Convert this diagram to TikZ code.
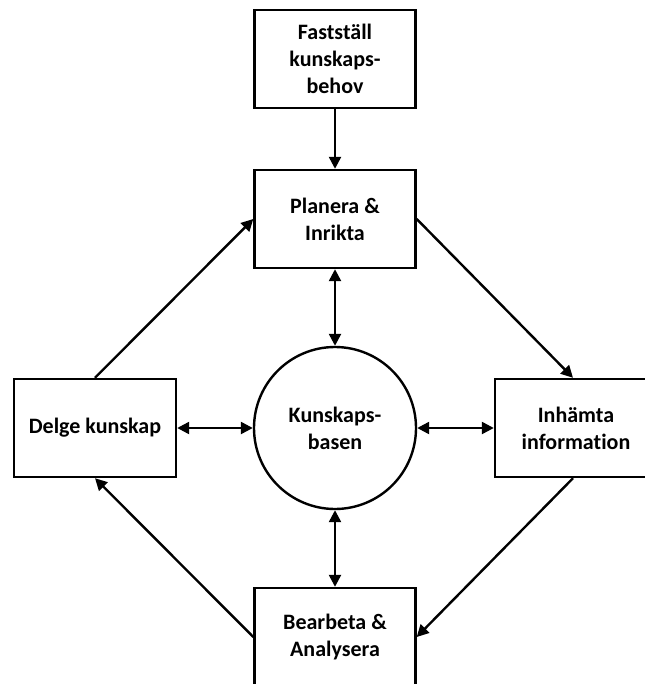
\documentclass[tikz,border=0pt]{standalone}
\usepackage{fontspec}
\setmainfont[Ligatures=NoCommon]{Carlito}
\usetikzlibrary{arrows.meta}
\begin{document}
\begin{tikzpicture}[x=1pt,y=-1pt,
  box/.style={draw, line width=2.4pt, rectangle, minimum width=161pt, minimum height=98pt, inner sep=0pt, align=center, font=\fontsize{22}{27}\selectfont\bfseries},
  hub/.style={draw, line width=2.4pt, circle, minimum size=162pt, inner sep=0pt, align=center, font=\fontsize{22}{27}\selectfont\bfseries},
  conn/.style={line width=2.4pt, -{Triangle[width=12pt,length=12pt]}},
  bconn/.style={line width=2.4pt, {Triangle[width=12pt,length=12pt]}-{Triangle[width=12pt,length=12pt]}}]
\useasboundingbox (0,0) rectangle (644,684);
\node[box] (fast) at (335,59) {Fastställ\\kunskaps-\\behov};
\node[box] (plan) at (335,219) {Planera \&\\Inrikta};
\node[hub] (kb) at (335,428) {Kunskaps-\\basen};
\node[box, minimum width=162pt] (delge) at (95,428) {Delge kunskap};
\node[box, minimum width=162pt] (inh) at (576,428) {Inhämta\\information};
\node[box] (bear) at (335,637) {Bearbeta \&\\Analysera};
\draw[conn] (fast) -- (plan);
\draw[conn] (plan.east) -- (inh.north -| 573,0);
\draw[conn] (inh.south -| 573,0) -- (bear.east);
\draw[conn] (bear.west) -- (delge.south);
\draw[conn] (delge.north) -- (plan.west);
\draw[bconn] (plan) -- (kb);
\draw[bconn] (delge) -- (kb);
\draw[bconn] (inh) -- (kb);
\draw[bconn] (bear) -- (kb);
\end{tikzpicture}
\end{document}
